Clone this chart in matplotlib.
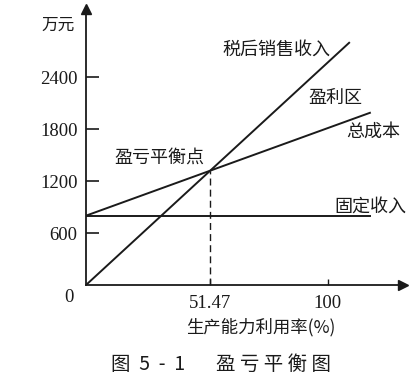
"""盈亏平衡图 (图 5-1)。"""

import matplotlib
matplotlib.use("Agg")
import matplotlib.pyplot as plt

# 数据
capacity_pct = [0, 108.9]          # 税后销售收入线的横坐标
sales_income = [0, 2795]           # 万元
cost_pct = [0, 117.5]
total_cost = [800, 1987]
fixed_pct = [0, 117.5]
fixed_income = [800, 800]
breakeven_pct = 51.47
breakeven_value = 1320

y_ticks = [600, 1200, 1800, 2400]
x_ticks = [breakeven_pct, 100]
x_tick_labels = ["51.47", "100"]

CJK = ["Noto Sans CJK SC", "DejaVu Sans"]
SERIF = "Liberation Serif"
INK = "#1a1a1a"

W, H = 419, 389
fig = plt.figure(figsize=(W / 100, H / 100), dpi=100)
ax = fig.add_axes([86 / W, (H - 285) / H, (403 - 86) / W, (285 - 9) / H])
ax.set_xlim(0, 131.2)
ax.set_ylim(0, 3185)

for side in ("top", "right"):
    ax.spines[side].set_visible(False)
for side in ("left", "bottom"):
    ax.spines[side].set_linewidth(1.3)
    ax.spines[side].set_color(INK)

# 坐标轴箭头
ax.plot(1, 0, ">", color=INK, markersize=7, transform=ax.transAxes, clip_on=False)
ax.plot(0, 1, "^", color=INK, markersize=7, transform=ax.transAxes, clip_on=False)

lw = 1.4
ax.plot(capacity_pct, sales_income, color=INK, lw=lw)
ax.plot(cost_pct, total_cost, color=INK, lw=lw)
ax.plot(fixed_pct, fixed_income, color=INK, lw=lw)
ax.plot([breakeven_pct, breakeven_pct], [0, breakeven_value], color=INK,
        lw=1.0, dashes=(5, 3))

ax.set_yticks(y_ticks)
ax.set_yticklabels([str(v) for v in y_ticks], fontfamily=SERIF, fontsize=13.5, color=INK)
ax.set_xticks(x_ticks)
ax.set_xticklabels(x_tick_labels, fontfamily=SERIF, fontsize=13.5, color=INK)
ax.tick_params(axis="y", direction="in", length=9.5, width=1.2, pad=6, color=INK)
ax.tick_params(axis="x", direction="in", length=4, width=1.0, pad=7, color=INK)

ax.text(-5, -50, "0", fontfamily=SERIF, fontsize=13.5, color=INK,
        ha="right", va="top")

label_kw = dict(fontfamily=CJK, fontsize=13, color=INK, ha="center", va="center")
ax.text(79, 2712, "税后销售收入", **label_kw)
ax.text(103.4, 2158, "盈利区", **label_kw)
ax.text(118.7, 1765, "总成本", **label_kw)
ax.text(117.9, 900, "固定收入", **label_kw)
ax.text(30.2, 1466, "盈亏平衡点", **label_kw)

fig.text(58 / W, 1 - 25 / H, "万元", fontfamily=CJK, fontsize=12, color=INK,
         ha="center", va="center")
fig.text(261 / W, 1 - 327 / H, "生产能力利用率(%)", fontfamily=CJK, fontsize=12.5,
         color=INK, ha="center", va="center")
fig.text(111 / W, 1 - 364 / H, "图  5  -  1", fontfamily=CJK,
         fontsize=14, color=INK, ha="left", va="center")
fig.text(216 / W, 1 - 364 / H, "盈 亏 平 衡 图", fontfamily=CJK,
         fontsize=14, color=INK, ha="left", va="center")

fig.savefig("out.png", dpi=100, facecolor="white")
